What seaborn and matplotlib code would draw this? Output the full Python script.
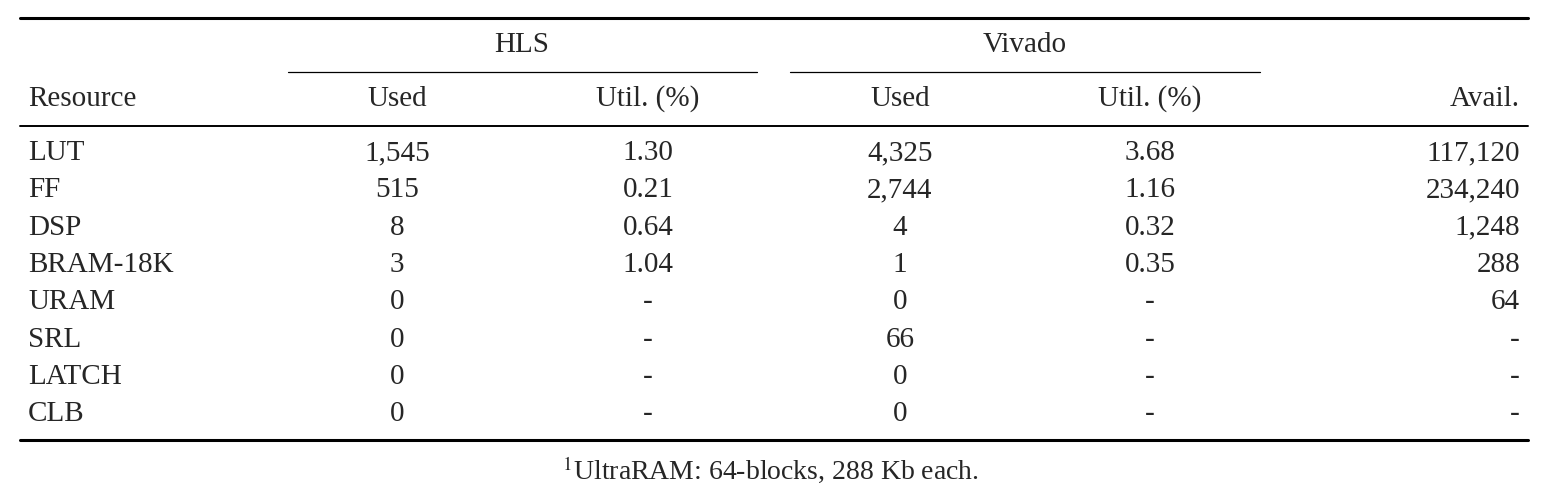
import matplotlib
matplotlib.use('Agg')
import matplotlib.pyplot as plt
import seaborn as sns

sns.set_theme(style='white')
plt.rcParams['font.family'] = ['Liberation Serif', 'DejaVu Serif']
plt.rcParams['mathtext.fontset'] = 'stix'

# 表格数据
resources = ['LUT', 'FF', 'DSP', 'BRAM-18K', 'URAM', 'SRL', 'LATCH', 'CLB']
hls_used = ['1,545', '515', '8', '3', '0', '0', '0', '0']
hls_util = ['1.30', '0.21', '0.64', '1.04', '-', '-', '-', '-']
viv_used = ['4,325', '2,744', '4', '1', '0', '66', '0', '0']
viv_util = ['3.68', '1.16', '0.32', '0.35', '-', '-', '-', '-']
avail = ['117,120', '234,240', '1,248', '288', '64', '-', '-', '-']
footnote = 'UltraRAM: 64-blocks, 288 Kb each.'

W, H = 1546, 494
fig = plt.figure(figsize=(W / 100, H / 100), dpi=100)
ax = fig.add_axes([0, 0, 1, 1])
ax.set_xlim(0, W)
ax.set_ylim(H, 0)
ax.axis('off')

fs = 21
col_c = [397, 648, 900, 1150]

# 线条
ax.plot([20, 1528], [18, 18], color='black', lw=2.2)
ax.plot([288, 757], [72, 72], color='black', lw=0.9)
ax.plot([790, 1260], [72, 72], color='black', lw=0.9)
ax.plot([20, 1528], [126, 126], color='black', lw=1.4)
ax.plot([20, 1528], [440, 440], color='black', lw=2.2)

# 表头
ax.text(522, 45, 'HLS', ha='center', va='center', fontsize=fs)
ax.text(1025, 45, 'Vivado', ha='center', va='center', fontsize=fs)
ax.text(28, 99, 'Resource', ha='left', va='center', fontsize=fs)
for x, t in zip(col_c, ['Used', 'Util. (%)', 'Used', 'Util. (%)']):
    ax.text(x, 99, t, ha='center', va='center', fontsize=fs)
ax.text(1520, 99, 'Avail.', ha='right', va='center', fontsize=fs)

# 数据行
y0, dy = 153, 37.3
for i, r in enumerate(resources):
    y = y0 + i * dy
    ax.text(28, y, r, ha='left', va='center', fontsize=fs)
    for x, col in zip(col_c, [hls_used, hls_util, viv_used, viv_util]):
        ax.text(x, y, col[i], ha='center', va='center', fontsize=fs)
    ax.text(1520, y, avail[i], ha='right', va='center', fontsize=fs)

ax.text(770, 470, r'$^{1}$' + footnote, ha='center', va='center', fontsize=fs - 1)

fig.savefig('out.png', dpi=100, facecolor='white')
